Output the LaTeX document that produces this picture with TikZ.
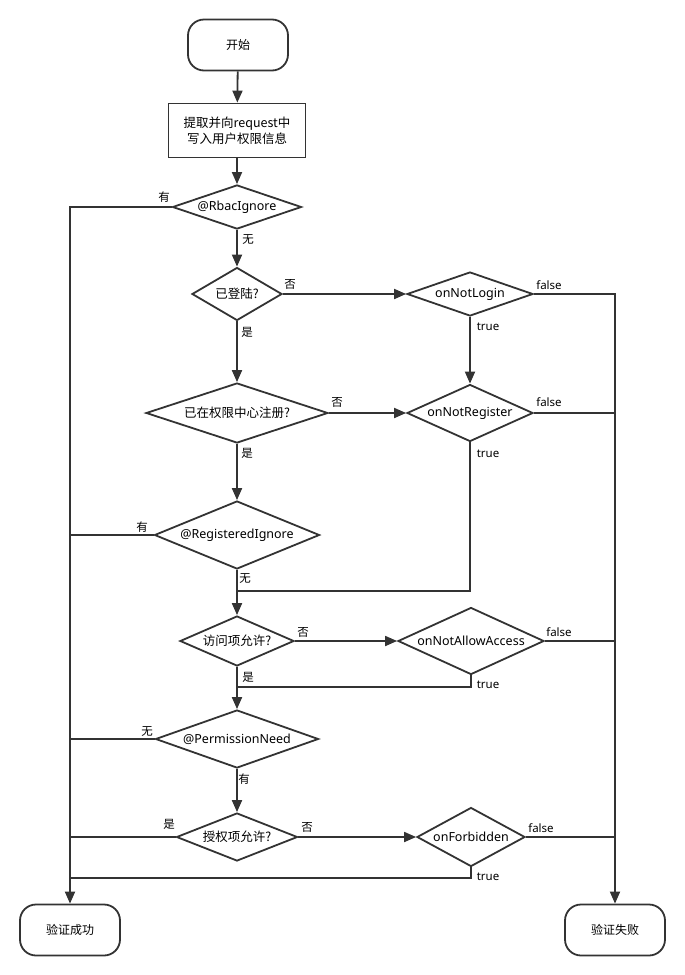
\documentclass[tikz,border=0pt]{standalone}
\usepackage{fontspec}
\setmainfont{Noto Sans}
\newfontfamily\cjk{Noto Sans CJK SC}
\usetikzlibrary{arrows.meta,shapes.geometric}
\definecolor{edge}{HTML}{333333}

\begin{document}
\begin{tikzpicture}[x=1pt,y=-1pt,
  term/.style={draw=edge,line width=1.8pt,rounded corners=16pt,minimum width=100pt,minimum height=51pt,font=\cjk\fontsize{12}{14}\selectfont},
  proc/.style={draw=edge,line width=1.8pt,minimum width=137pt,minimum height=54pt,align=center,font=\cjk\fontsize{12.5}{16}\selectfont},
  dec/.style={draw=edge,line width=1.8pt,diamond,aspect=2.5,inner sep=0pt,font=\fontsize{12.5}{14}\selectfont},
  arr/.style={draw=edge,line width=1.8pt,-{Triangle[length=12pt,width=10pt]}},
  line/.style={draw=edge,line width=1.8pt},
  lbl/.style={inner sep=0pt,font=\fontsize{11.5}{13}\selectfont}]
  \useasboundingbox (0,0) rectangle (685,975);

  % main column
  \node[term] (start) at (238,45) {开始};
  \node[proc] (extract) at (237,130.5) {提取并向request中\\写入用户权限信息};
  \node[dec,minimum width=129pt,minimum height=42pt] (rbac) at (237,207) {@RbacIgnore};
  \node[dec,minimum width=90pt,minimum height=53pt] (login) at (237,294) {\cjk 已登陆?};
  \node[dec,minimum width=182pt,minimum height=60pt] (reg) at (237,413) {\cjk 已在权限中心注册?};
  \node[dec,minimum width=165pt,minimum height=68pt] (regign) at (237,535) {@RegisteredIgnore};
  \node[dec,minimum width=114pt,minimum height=50pt] (access) at (237,641) {\cjk 访问项允许?};
  \node[dec,minimum width=163pt,minimum height=58pt] (pneed) at (237,739) {@PermissionNeed};
  \node[dec,minimum width=121pt,minimum height=48pt] (auth) at (237,837) {\cjk 授权项允许?};

  % handlers
  \node[dec,minimum width=126pt,minimum height=44pt] (nlogin) at (470,294) {onNotLogin};
  \node[dec,minimum width=126pt,minimum height=57pt] (nreg) at (470,413) {onNotRegister};
  \node[dec,minimum width=146pt,minimum height=67pt] (nallow) at (471,641) {onNotAllowAccess};
  \node[dec,minimum width=108pt,minimum height=59pt] (forb) at (471,837) {onForbidden};

  % ends
  \node[term] (succ) at (70,930) {验证成功};
  \node[term] (fail) at (615,930) {验证失败};

  \coordinate (j1) at (237,591);
  \coordinate (j2) at (237,687);
  \coordinate (j3) at (70,878);

  % connectors
  \draw[arr] (start) -- (extract);
  \draw[arr] (extract) -- (rbac);
  \draw[arr] (rbac.west) -| (succ.north);
  \draw[arr] (rbac) -- (login);
  \draw[arr] (login) -- (nlogin);
  \draw[arr] (nlogin.east) -| (fail.north);
  \draw[arr] (nlogin) -- (nreg);
  \draw[arr] (login) -- (reg);
  \draw[arr] (reg) -- (nreg);
  \draw[line] (nreg.east) -- (nreg.east -| fail.north);
  \draw[line] (nreg.south) |- (j1);
  \draw[arr] (reg) -- (regign);
  \draw[line] (regign.west) -- (regign.west -| succ.north);
  \draw[arr] (regign) -- (access);
  \draw[arr] (access) -- (nallow);
  \draw[line] (nallow.east) -- (nallow.east -| fail.north);
  \draw[line] (nallow.south) |- (j2);
  \draw[arr] (access) -- (pneed);
  \draw[line] (pneed.west) -- (pneed.west -| succ.north);
  \draw[arr] (pneed) -- (auth);
  \draw[line] (auth.west) -- (auth.west -| succ.north);
  \draw[arr] (auth) -- (forb);
  \draw[line] (forb.east) -- (forb.east -| fail.north);
  \draw[line] (forb.south) |- (j3);

  % branch labels
  \node[lbl] (lRbacY) at (164,197) {\cjk 有};
  \node[lbl] (lRbacN) at (248,240) {\cjk 无};
  \node[lbl] (lLoginN) at (290,284) {\cjk 否};
  \node[lbl] (lLoginY) at (247,332) {\cjk 是};
  \node[lbl] (lNLoginF) at (549,285) {false};
  \node[lbl] (lNLoginT) at (488,327) {true};
  \node[lbl] (lRegN) at (337,402) {\cjk 否};
  \node[lbl] (lRegY) at (247,453) {\cjk 是};
  \node[lbl] (lNRegF) at (549,402) {false};
  \node[lbl] (lNRegT) at (488,454) {true};
  \node[lbl] (lRegIgnY) at (142,527) {\cjk 有};
  \node[lbl] (lRegIgnN) at (245,579) {\cjk 无};
  \node[lbl] (lAccessN) at (303,632) {\cjk 否};
  \node[lbl] (lAccessY) at (248,677) {\cjk 是};
  \node[lbl] (lNAllowF) at (559,632) {false};
  \node[lbl] (lNAllowT) at (488,685) {true};
  \node[lbl] (lPNeedN) at (147,732) {\cjk 无};
  \node[lbl] (lPNeedY) at (244,779) {\cjk 有};
  \node[lbl] (lAuthY) at (169,824) {\cjk 是};
  \node[lbl] (lAuthN) at (307,827) {\cjk 否};
  \node[lbl] (lForbF) at (541,828) {false};
  \node[lbl] (lForbT) at (488,877) {true};
\end{tikzpicture}
\end{document}
